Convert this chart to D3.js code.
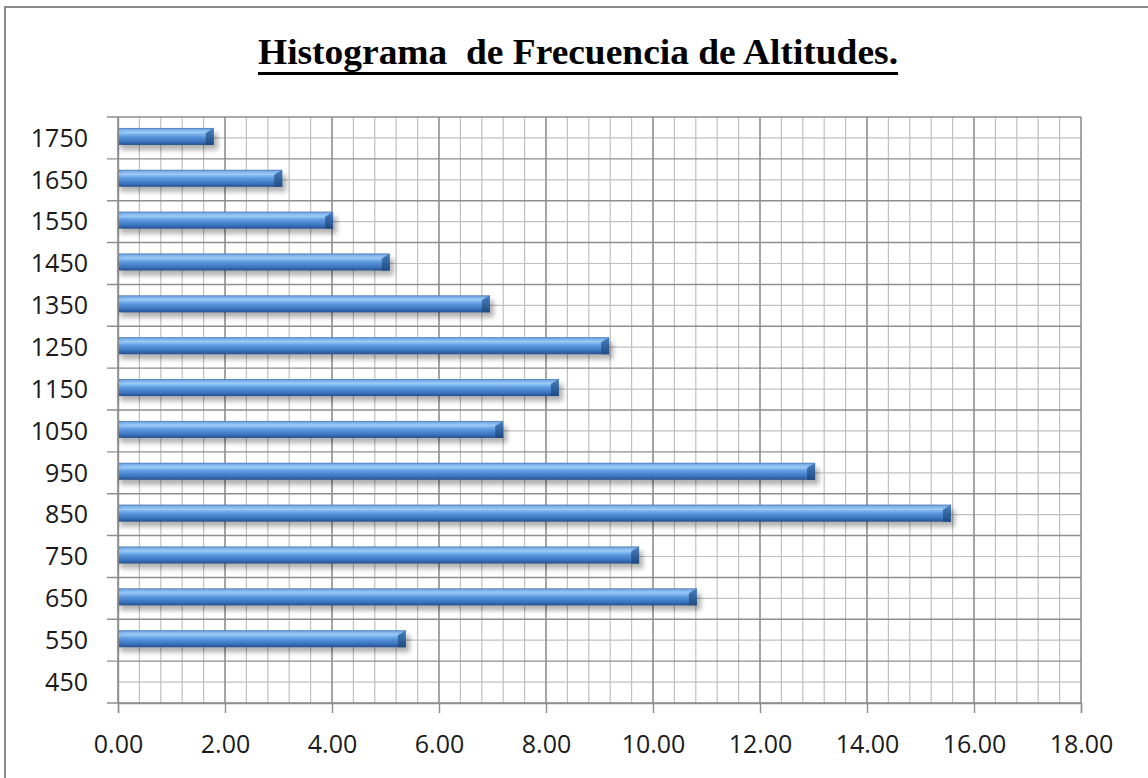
<!DOCTYPE html>
<html><head><meta charset="utf-8">
<script src="https://cdn.jsdelivr.net/npm/d3@7"></script>
<style>body{margin:0;background:#fff}svg{display:block}</style>
</head><body>
<svg id="c" width="1148" height="778"></svg>
<script>
const categories = ["450","550","650","750","850","950","1050","1150","1250","1350","1450","1550","1650","1750"];
const values = [0, 5.38, 10.82, 9.74, 15.57, 13.03, 7.20, 8.24, 9.18, 6.95, 5.08, 4.02, 3.07, 1.79];
const xTicks = [0,2,4,6,8,10,12,14,16,18];
const title = "Histograma  de Frecuencia de Altitudes.";

const svg = d3.select("#c");
const m = {l:118, r:1081, t:117, b:703};
const x = d3.scaleLinear().domain([0,18]).range([m.l, m.r]);
const y = d3.scaleBand().domain(categories.slice().reverse()).range([m.t, m.b]).padding(0);
const bw = y.bandwidth();

// frame
svg.append("rect").attr("x",5).attr("y",7).attr("width",1160).attr("height",800)
  .attr("fill","none").attr("stroke","#8a8a8a").attr("stroke-width",2);

// title
svg.append("text").attr("x",258).attr("y",64)
  .attr("font-family","'Liberation Serif','Times New Roman',serif").attr("font-weight","bold")
  .attr("font-size",35).attr("fill","#000").style("white-space","pre")
  .attr("textLength",640).attr("lengthAdjust","spacingAndGlyphs").text(title);
svg.append("rect").attr("x",258).attr("y",72).attr("width",640).attr("height",3).attr("fill","#000");

const defs = svg.append("defs");
const g1 = defs.append("linearGradient").attr("id","bar").attr("x1",0).attr("y1",0).attr("x2",0).attr("y2",1);
[[0,"#3466a8"],[0.1,"#6aa6e8"],[0.28,"#92c6f6"],[0.5,"#5b98de"],[0.8,"#3b74bf"],[1,"#24508e"]]
  .forEach(([o,c])=>g1.append("stop").attr("offset",o).attr("stop-color",c));
const g2 = defs.append("linearGradient").attr("id","cap").attr("x1",0).attr("y1",0).attr("x2",0).attr("y2",1);
[[0,"#4a80c4"],[0.5,"#34659f"],[1,"#1f4a82"]]
  .forEach(([o,c])=>g2.append("stop").attr("offset",o).attr("stop-color",c));
const f = defs.append("filter").attr("id","sh").attr("x","-5%").attr("y","-50%").attr("width","110%").attr("height","250%");
f.append("feGaussianBlur").attr("stdDeviation",2.5);

// grid
const grid = svg.append("g");
const minor = d3.range(0, 18.0001, 0.4);
grid.selectAll(".vm").data(minor).join("line")
  .attr("x1",d=>x(d)).attr("x2",d=>x(d)).attr("y1",m.t).attr("y2",m.b)
  .attr("stroke","#c0c0c0").attr("stroke-width",1.2);
grid.selectAll(".hm").data(categories).join("line")
  .attr("x1",m.l).attr("x2",m.r).attr("y1",d=>y(d)+bw/2).attr("y2",d=>y(d)+bw/2)
  .attr("stroke","#c0c0c0").attr("stroke-width",1.2);
grid.selectAll(".vM").data(xTicks).join("line")
  .attr("x1",d=>x(d)).attr("x2",d=>x(d)).attr("y1",m.t).attr("y2",m.b)
  .attr("stroke","#8e8e8e").attr("stroke-width",1.4);
const hb = categories.map(c=>y(c)).concat([m.b]);
grid.selectAll(".hM").data(hb).join("line")
  .attr("x1",m.l-11).attr("x2",m.r).attr("y1",d=>d).attr("y2",d=>d)
  .attr("stroke","#8e8e8e").attr("stroke-width",1.4);

// axes
const xa = svg.append("g").attr("transform",`translate(0,${m.b})`)
  .call(d3.axisBottom(x).tickValues(xTicks).tickFormat(d3.format(".2f")).tickSize(10).tickPadding(22));
xa.select(".domain").attr("stroke","#8e8e8e").attr("stroke-width",1.4);
xa.selectAll(".tick line").attr("stroke","#8e8e8e").attr("stroke-width",1.4);
xa.selectAll("text").attr("font-family","'Open Sans',sans-serif").attr("font-size",25).attr("fill","#1a1a1a");
const ya = svg.append("g").attr("transform",`translate(${m.l},0)`)
  .call(d3.axisLeft(y).tickSize(0).tickPadding(30));
ya.select(".domain").attr("stroke","#8e8e8e").attr("stroke-width",1.4);
ya.selectAll("text").attr("font-family","'Open Sans',sans-serif").attr("font-size",25).attr("fill","#1a1a1a").attr("dy","0.35em");

// bars
const bh = 17;
const bars = svg.append("g").selectAll("g").data(categories.map((c,i)=>({c,v:values[i]})).filter(d=>d.v>0)).join("g");
const barTop = d=>y(d.c)+bw/2-bh/2-1.5;
bars.append("rect").attr("x",x(0)+2).attr("y",d=>barTop(d)+5).attr("width",d=>x(d.v)-x(0)+2).attr("height",bh)
  .attr("fill","#000").attr("opacity",0.3).attr("filter","url(#sh)");
bars.append("rect").attr("x",x(0)+1).attr("y",barTop).attr("width",d=>x(d.v)-x(0)-1).attr("height",bh)
  .attr("fill","url(#bar)");
bars.append("path").attr("d",d=>{const xe=x(d.v), t=barTop(d); return `M${xe-8},${t+5}L${xe},${t}L${xe},${t+bh}L${xe-8},${t+bh}Z`;})
  .attr("fill","url(#cap)");
bars.append("path").attr("d",d=>{const xe=x(d.v), t=barTop(d); return `M${x(0)+1},${t}L${xe},${t}L${xe-8},${t+5}L${x(0)+6},${t+5}Z`;})
  .attr("fill","#ffffff").attr("opacity",0.12);
</script>
</body></html>
